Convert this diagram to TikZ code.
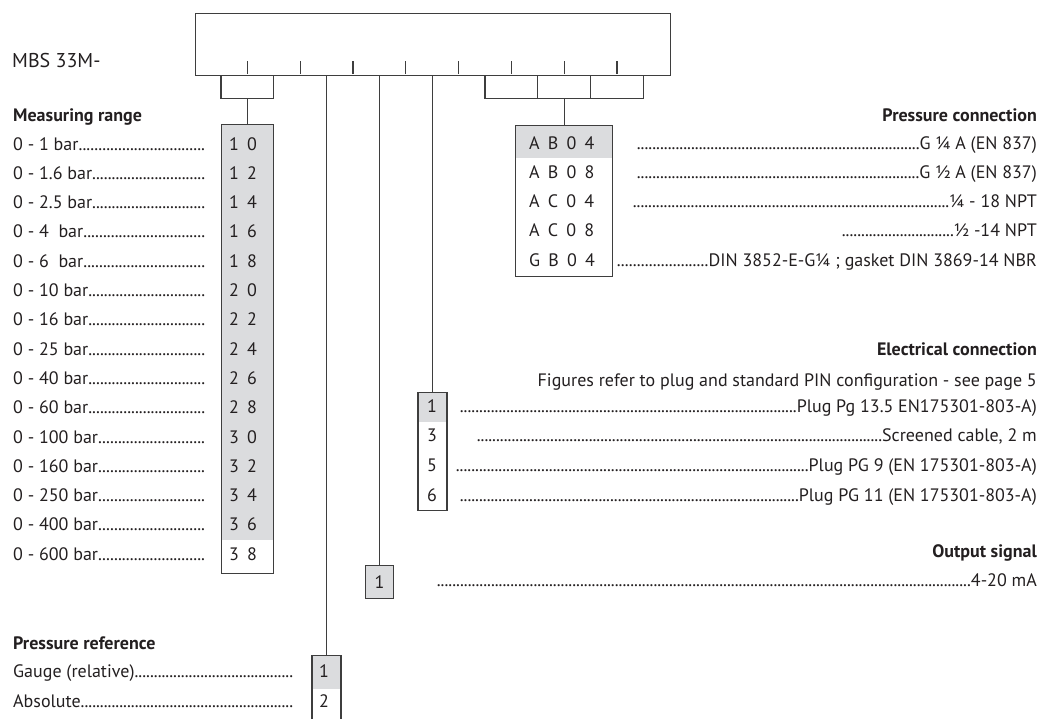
\documentclass[tikz,border=0pt]{standalone}
\usepackage{fontspec}
\setmainfont{PT Sans}
\newfontfamily\codefont[WordSpace=1.7]{PT Sans}
\definecolor{cellgray}{RGB}{219,220,222}
\definecolor{ink}{RGB}{35,31,32}
\definecolor{rule}{RGB}{62,62,62}
\newcommand\dotlead{\xleaders\hbox{.}\hfill}
\tikzset{
  txt/.style={anchor=base west, inner sep=0pt, text=ink, font=\fontsize{18}{18}\selectfont},
  rtxt/.style={txt, anchor=base east},
  hdr/.style={txt, font=\fontsize{18}{18}\selectfont\bfseries},
  rhdr/.style={hdr, anchor=base east},
  code/.style={txt, font=\fontsize{18}{18}\selectfont\codefont},
  codebox/.style={draw=rule, line width=1.2pt, anchor=north, inner sep=0pt},
  topfill/.style={path picture={\fill[cellgray] (path picture bounding box.north west) rectangle ([yshift=-#1]path picture bounding box.north east);}},
  link/.style={draw=rule, line width=1.2pt},
}
\begin{document}
\begin{tikzpicture}[x=1pt,y=-1pt]
\useasboundingbox (0,0) rectangle (1041,718);
\clip (0,0) rectangle (1041,718);

\node[txt, font=\fontsize{20}{20}\selectfont] (mbs) at (12,67) {MBS 33M-};
\node[codebox, anchor=north west, minimum width=475pt, minimum height=62pt] (code) at (194.5,12.5) {};
\foreach \k in {1,...,8}
  \draw[link] (194.5+52.8*\k,74) -- ++(0,-13);

\node[codebox, minimum width=52.8pt, minimum height=23pt] (brL) at (247.3,74.5) {};
\node[codebox, minimum width=52.8pt, minimum height=23pt] (brR1) at (511.3,74.5) {};
\node[codebox, minimum width=52.8pt, minimum height=23pt] (brR2) at (564.1,74.5) {};
\node[codebox, minimum width=52.8pt, minimum height=23pt] (brR3) at (616.9,74.5) {};

\node[codebox, minimum width=52pt, minimum height=449pt, topfill=416pt] (mrbox) at (247.3,123.5) {};
\node[codebox, minimum width=97pt, minimum height=151pt, topfill=33pt] (pcbox) at (564.1,124.5) {};
\node[codebox, minimum width=29pt, minimum height=118pt, topfill=30pt] (ecbox) at (432.5,391.5) {};
\node[codebox, minimum width=28pt, minimum height=33pt, fill=cellgray, font=\fontsize{18}{18}\selectfont\color{ink}] (osbox) at (379.5,564.5) {1};
\node[codebox, minimum width=29pt, minimum height=80pt, topfill=34pt] (prbox) at (326.5,654.5) {};

\draw[link] (brL.south) -- (mrbox.north);
\draw[link] (brR2.south) -- (pcbox.north);
\draw[link] (code.south -| prbox.north) -- (prbox.north);
\draw[link] (code.south -| osbox.north) -- (osbox.north);
\draw[link] (code.south -| ecbox.north) -- (ecbox.north);

\node[hdr] (mrhead) at (13,121) {Measuring range};
\foreach \r/\c [count=\i from 0] in {0 - 1 bar/1 0, 0 - 1.6 bar/1 2, 0 - 2.5 bar/1 4, 0 - 4~ bar/1 6,
    0 - 6~ bar/1 8, 0 - 10 bar/2 0, 0 - 16 bar/2 2, 0 - 25 bar/2 4, 0 - 40 bar/2 6, 0 - 60 bar/2 8,
    0 - 100 bar/3 0, 0 - 160 bar/3 2, 0 - 250 bar/3 4, 0 - 400 bar/3 6, 0 - 600 bar/3 8} {
  \node[txt] (mr\i) at (13,150+29.3*\i) {\makebox[192pt][l]{\r\dotlead}};
  \node[code] (mc\i) at (229,150+29.3*\i) {\c};
}

\node[rhdr] (pchead) at (1037,121) {Pressure connection};
\foreach \c/\s/\t [count=\i from 0] in {A B 0 4/637/G ¼ A (EN 837), A B 0 8/637/G ½ A (EN 837),
    A C 0 4/633/¼ - 18 NPT, A C 0 8/842/½ -14 NPT, G B 0 4/617/DIN 3852-E-G¼ ; gasket DIN 3869-14 NBR} {
  \pgfmathsetmacro\w{1037-\s}
  \node[code] (pc\i) at (529,149+29.3*\i) {\c};
  \node[rtxt] (pt\i) at (1037,149+29.3*\i) {\makebox[\w pt][r]{\dotlead\t}};
}

\node[rhdr] (echead) at (1037,355) {Electrical connection};
\node[rtxt] (ecnote) at (1037,386) {Figures refer to plug and standard PIN configuration - see page 5};
\foreach \c/\s/\t [count=\i from 0] in {1/460/Plug Pg 13.5 EN175301-803-A), 3/477/{Screened cable, 2 m},
    5/456/Plug PG 9 (EN 175301-803-A), 6/460/Plug PG 11 (EN 175301-803-A)} {
  \pgfmathsetmacro\w{1037-\s}
  \node[code] (ec\i) at (427,412+29.7*\i) {\c};
  \node[rtxt] (et\i) at (1037,412+29.7*\i) {\makebox[\w pt][r]{\dotlead\t}};
}

\node[rhdr] (oshead) at (1037,557) {Output signal};
\node[rtxt] (ostxt) at (1037,586) {\makebox[600pt][r]{\dotlead 4-20 mA}};

\node[hdr] (prhead) at (13,649) {Pressure reference};
\node[txt] (pr0) at (13,677) {\makebox[280pt][l]{Gauge (relative)\dotlead}};
\node[txt] (pr1) at (13,707) {\makebox[280pt][l]{Absolute\dotlead}};
\node[code] (prc0) at (319,677) {1};
\node[code] (prc1) at (319,707) {2};
\end{tikzpicture}
\end{document}
